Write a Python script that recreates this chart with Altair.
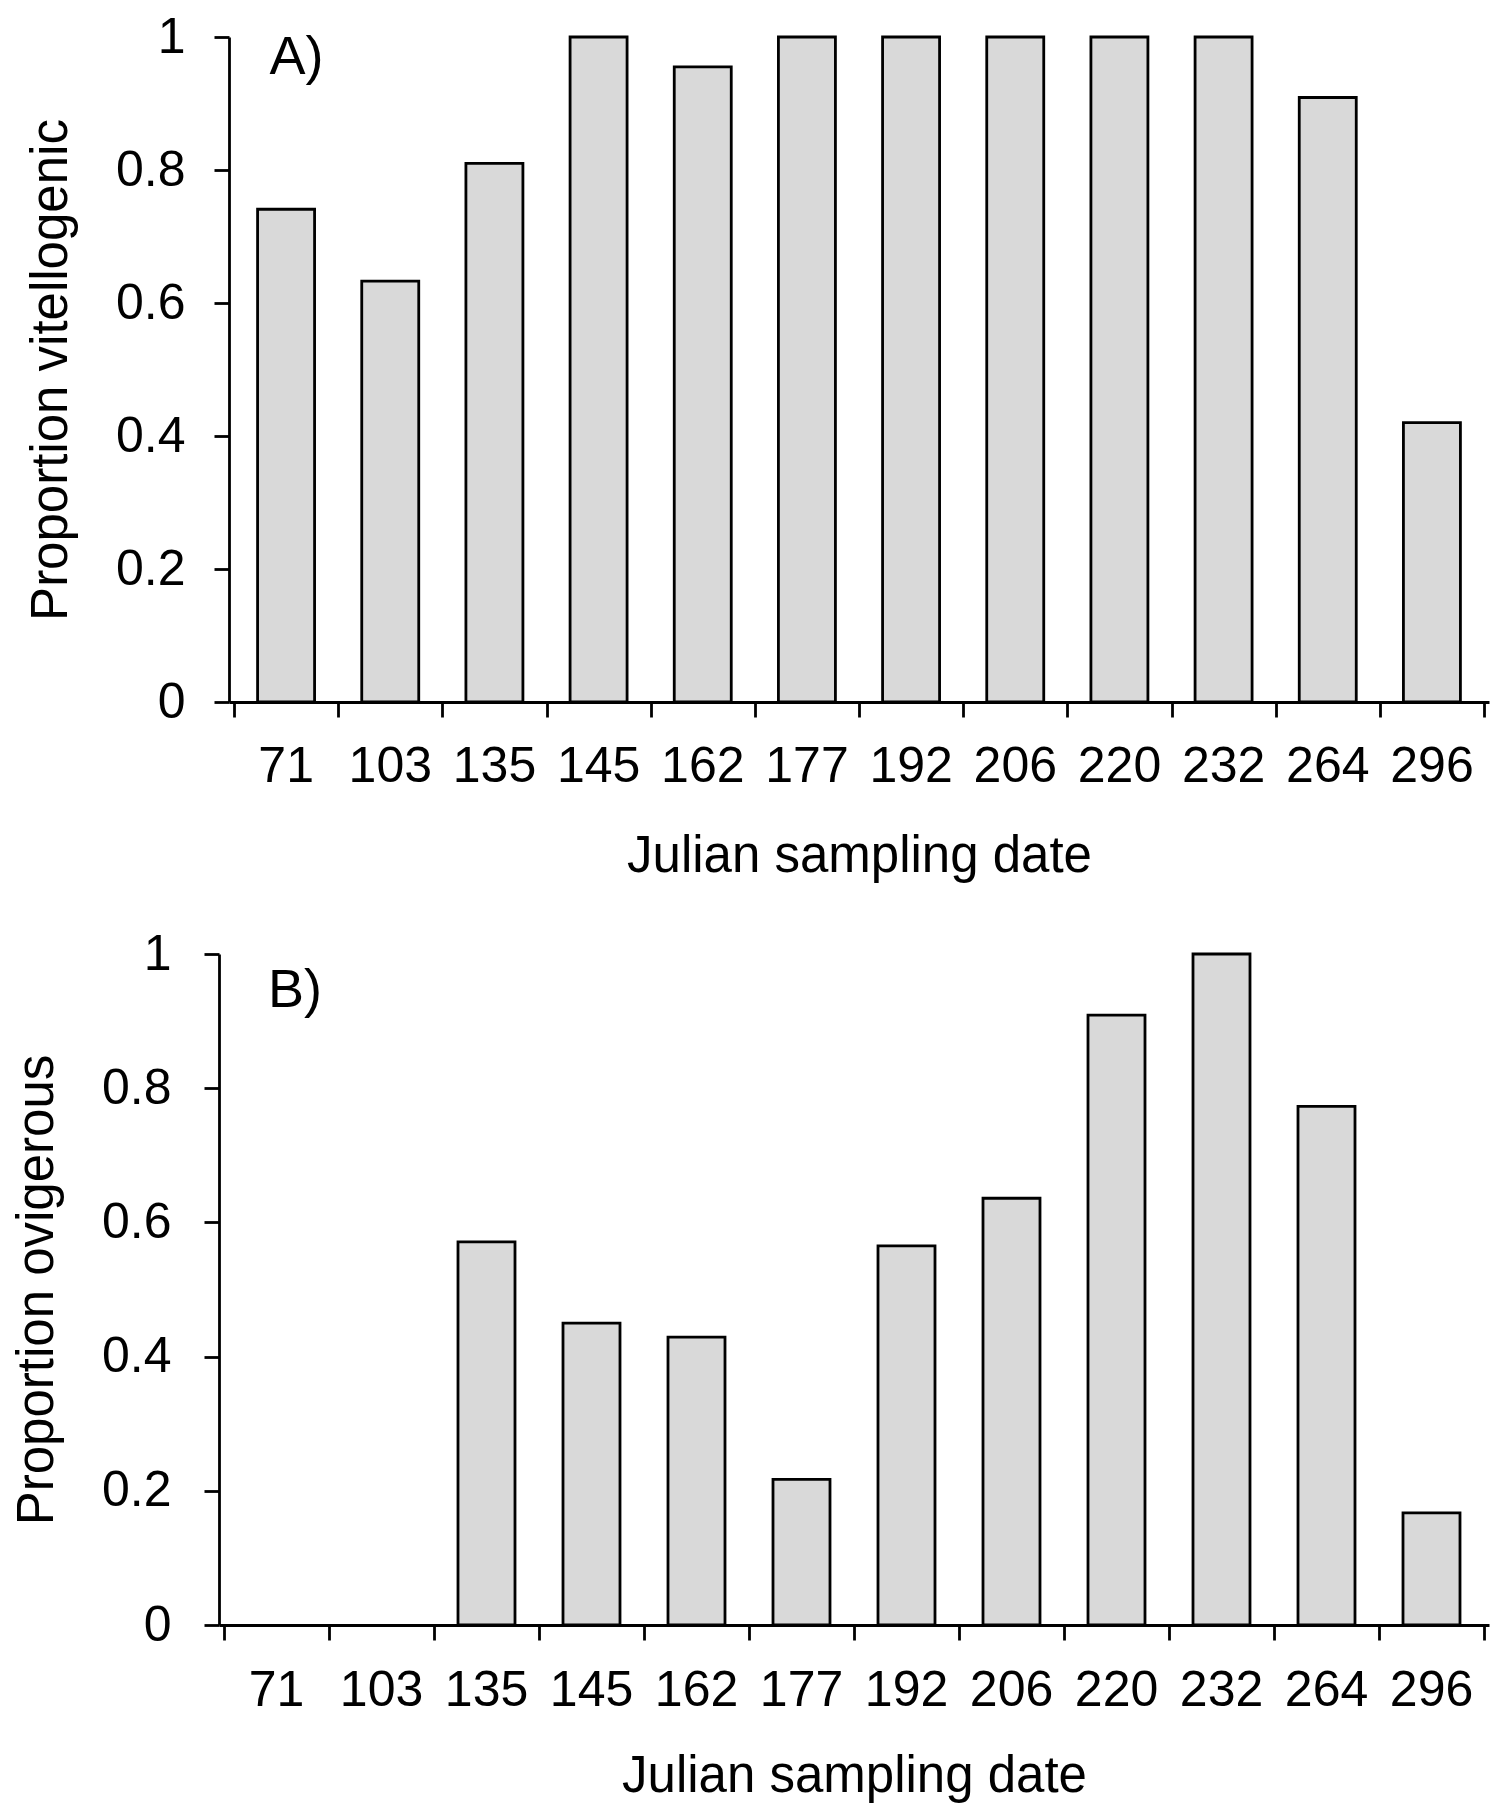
import json
import altair as alt
import pandas as pd

# ---- data ----
dates = ["71", "103", "135", "145", "162", "177", "192", "206", "220", "232", "264", "296"]
vitellogenic = [0.741, 0.633, 0.81, 1.0, 0.955, 1.0, 1.0, 1.0, 1.0, 1.0, 0.909, 0.42]
ovigerous = [0.0, 0.0, 0.571, 0.45, 0.429, 0.217, 0.565, 0.636, 0.909, 1.0, 0.773, 0.167]
y_ticks = [0, 0.2, 0.4, 0.6, 0.8, 1]
panel_labels = ["A)", "B)"]
y_titles = ["Proportion vitellogenic", "Proportion ovigerous"]
x_title = "Julian sampling date"

FONT = "Liberation Sans"
FILL = "#d9d9d9"
W = 1270

# tick i (1..12) sits at the right edge of category i-1; its label is moved back half a step
label_expr = "datum.value > 0 ? " + json.dumps(dates) + "[datum.value - 1] : ''"


def panel(values, ylab, ann, rng, height, yoffset, ylabpad, ytitlepad,
          xlabpad, xtitlepad, ann_pos, ann_val):
    df = pd.DataFrame({
        "date": dates,
        "pos": [i + 0.5 for i in range(len(dates))],
        "value": values,
    })
    step = (rng[1] - rng[0]) / len(dates)
    xs = alt.Scale(domain=[0, len(dates)], range=rng, nice=False, zero=False)
    ys = alt.Scale(domain=[0, 1], nice=False)
    xaxis = alt.Axis(
        values=list(range(len(dates) + 1)), labelExpr=label_expr,
        labelOffset=-step / 2, labelFlush=False, labelOverlap=False,
        tickSize=15, labelPadding=xlabpad, titlePadding=xtitlepad,
        title=x_title, grid=False,
    )
    yaxis = alt.Axis(
        values=y_ticks, format=".1~f", tickSize=15, labelPadding=ylabpad,
        titlePadding=ytitlepad, title=ylab, grid=False, offset=yoffset,
    )
    bars = alt.Chart(df).transform_filter("datum.value > 0").mark_bar(
        size=57, fill=FILL, stroke="black", strokeWidth=2.8
    ).encode(
        x=alt.X("pos:Q", scale=xs, axis=xaxis),
        y=alt.Y("value:Q", scale=ys, axis=yaxis),
    )
    ann_df = pd.DataFrame({"pos": [ann_pos], "value": [ann_val], "t": [ann]})
    text = alt.Chart(ann_df).mark_text(
        align="left", baseline="middle", font=FONT, fontSize=54, color="black"
    ).encode(
        x=alt.X("pos:Q", scale=xs),
        y=alt.Y("value:Q", scale=ys),
        text="t:N",
    )
    return alt.layer(bars, text).properties(width=W, height=height)


top = panel(vitellogenic, y_titles[0], panel_labels[0], [10, W], 665, -10,
            29, 38, 24, 40, 0.34, 0.968)
bottom = panel(ovigerous, y_titles[1], panel_labels[1], [0, W], 671, 0,
               33, 38, 25, 36, 0.42, 0.945)

chart = alt.vconcat(top, bottom, spacing=48).properties(
    padding={"left": 3, "top": 4, "right": 5, "bottom": 5}
).configure_view(strokeWidth=0).configure_axis(
    labelFont=FONT, labelFontSize=50, labelColor="black",
    titleFont=FONT, titleFontSize=51, titleFontWeight="normal", titleColor="black",
    domainColor="black", domainWidth=2.8, tickColor="black", tickWidth=2.8,
)

chart.save("out.html", embed_options={"renderer": "svg", "actions": False})
